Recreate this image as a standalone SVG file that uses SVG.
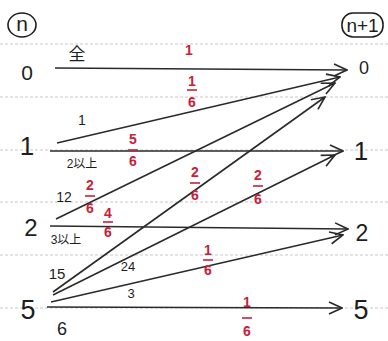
<svg xmlns="http://www.w3.org/2000/svg" width="388" height="341" viewBox="0 0 388 341">
<style>
.guide{stroke:#c8c8c8;stroke-width:1;stroke-dasharray:3 2;fill:none}
.edge{stroke:#2a2a2a;stroke-width:1.6;fill:none;marker-end:url(#arr)}
.big{font-family:"Liberation Sans",sans-serif;fill:#1e1e1e;text-anchor:middle;dominant-baseline:central}
.lbl{font-family:"Liberation Sans","Noto Sans CJK JP",sans-serif;fill:#1e1e1e;text-anchor:middle;dominant-baseline:central}
.red{font-family:"Liberation Sans",sans-serif;fill:#c8213a;font-weight:bold;font-size:14px;text-anchor:middle;dominant-baseline:central}
.bar{stroke:#c8213a;stroke-width:1.6}
</style>
<defs>
<marker id="arr" markerUnits="userSpaceOnUse" viewBox="0 0 16 14" refX="15" refY="7" markerWidth="16" markerHeight="14" orient="auto">
<path d="M2,1 L15,7 L2,13" fill="none" stroke="#2a2a2a" stroke-width="1.6"/>
</marker>
</defs>
<rect width="388" height="341" fill="#fff"/>
<g id="guides">
<line class="guide" x1="0" y1="44" x2="388" y2="44"/>
<line class="guide" x1="0" y1="97" x2="388" y2="97"/>
<line class="guide" x1="0" y1="150" x2="388" y2="150"/>
<line class="guide" x1="0" y1="202" x2="388" y2="202"/>
<line class="guide" x1="0" y1="255" x2="388" y2="255"/>
<line class="guide" x1="0" y1="308" x2="388" y2="308"/>
</g>
<g id="header-n">
<ellipse cx="22" cy="25" rx="14" ry="12" fill="none" stroke="#1e1e1e" stroke-width="1.6"/>
<text class="big" x="22" y="23" font-size="21">n</text>
</g>
<g id="header-n1">
<rect x="342" y="13" width="41" height="24" rx="11" fill="none" stroke="#1e1e1e" stroke-width="1.6"/>
<text class="big" x="362.5" y="25" font-size="19">n+1</text>
</g>
<g id="left-0"><text class="big" x="27" y="72" font-size="21">0</text></g>
<g id="left-1"><text class="big" x="27" y="146" font-size="26">1</text></g>
<g id="left-2"><text class="big" x="31" y="227" font-size="24">2</text></g>
<g id="left-5"><text class="big" x="28" y="310" font-size="27">5</text></g>
<g id="right-0"><text class="big" x="364" y="68" font-size="18">0</text></g>
<g id="right-1"><text class="big" x="361" y="151" font-size="26">1</text></g>
<g id="right-2"><text class="big" x="362" y="233" font-size="23">2</text></g>
<g id="right-5"><text class="big" x="361" y="310" font-size="27">5</text></g>
<g id="connectors">
<path class="edge" d="M55,68 L347,70"/>
<path class="edge" d="M57,143 L340,77"/>
<path class="edge" d="M50,151 L343,151"/>
<path class="edge" d="M56,219 L335,83"/>
<path class="edge" d="M50,226 L348,229"/>
<path class="edge" d="M53,292 L325,97"/>
<path class="edge" d="M53,295 L335,155"/>
<path class="edge" d="M51,302 L343,235"/>
<path class="edge" d="M47,307 L342,308"/>
</g>
<g id="edge-labels">
<text class="lbl" x="77" y="54" font-size="17">全</text>
<text class="lbl" x="82" y="120" font-size="14">1</text>
<text class="lbl" x="82" y="164" font-size="12">2以上</text>
<text class="lbl" x="64" y="197" font-size="14">12</text>
<text class="lbl" x="66" y="240" font-size="12">3以上</text>
<text class="lbl" x="57" y="273" font-size="15">15</text>
<text class="lbl" x="128" y="266" font-size="13">24</text>
<text class="lbl" x="131" y="293" font-size="13">3</text>
<text class="lbl" x="62" y="329" font-size="18">6</text>
</g>
<g id="probs">
<text class="red" x="189" y="50" font-size="19">1</text>
<text class="red" x="192" y="81">1</text><line class="bar" x1="187" y1="90" x2="197" y2="90"/><text class="red" x="192" y="102">6</text>
<text class="red" x="133" y="139">5</text><line class="bar" x1="128" y1="150" x2="138" y2="150"/><text class="red" x="133" y="161">6</text>
<text class="red" x="90" y="185">2</text><line class="bar" x1="85" y1="196" x2="95" y2="196"/><text class="red" x="90" y="208">6</text>
<text class="red" x="108" y="213">4</text><line class="bar" x1="103" y1="222" x2="113" y2="222"/><text class="red" x="108" y="232">6</text>
<text class="red" x="195" y="172">2</text><line class="bar" x1="190" y1="183" x2="200" y2="183"/><text class="red" x="195" y="195">6</text>
<text class="red" x="258" y="175">2</text><line class="bar" x1="253" y1="186" x2="263" y2="186"/><text class="red" x="258" y="199">6</text>
<text class="red" x="208" y="250">1</text><line class="bar" x1="203" y1="260" x2="213" y2="260"/><text class="red" x="208" y="270">6</text>
<text class="red" x="247" y="302">1</text><line class="bar" x1="242" y1="318" x2="252" y2="318"/><text class="red" x="247" y="331">6</text>
</g>
</svg>
